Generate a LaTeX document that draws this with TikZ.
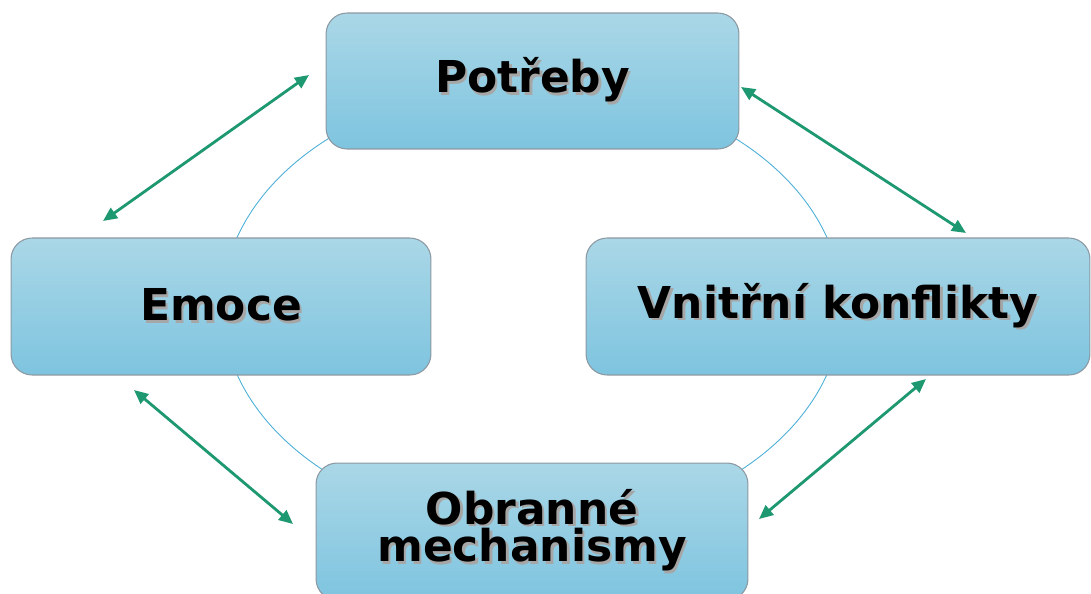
\documentclass[tikz,border=0pt]{standalone}
\usepackage{fontspec}
\setmainfont{DejaVu Sans}
\usetikzlibrary{arrows.meta,positioning}
\definecolor{boxtop}{RGB}{170,215,231}
\definecolor{boxbot}{RGB}{126,196,223}
\definecolor{boxline}{RGB}{140,152,162}
\definecolor{ringblue}{RGB}{75,175,215}
\definecolor{arrgreen}{RGB}{30,152,112}
\newcommand{\shtxt}[1]{\makebox[0pt][l]{\kern1.5pt\raisebox{-1.5pt}{\color{black!35}#1}}#1}
\tikzstyle{stage} = [rectangle, rounded corners=12pt, draw=boxline, line width=0.6pt,
                     top color=boxtop, bottom color=boxbot, inner sep=0pt,
                     font=\fontsize{25}{21.5}\selectfont\bfseries, align=center]
\tikzstyle{arrow} = [line width=1.6pt, draw=arrgreen,
                     {Triangle[length=8pt,width=7pt]}-{Triangle[length=8pt,width=7pt]}]

\begin{document}
\begin{tikzpicture}[x=0.02cm, y=-0.02cm]
	\useasboundingbox (0,0) rectangle (1091,593);
	% ring behind the boxes
	\coordinate (mid) at (532,306);
	\draw[ringblue, line width=0.5pt] (mid) ellipse [x radius=310, y radius=222];
	% the four boxes
	\node[stage, minimum width=8.26cm, minimum height=2.72cm] (needs) at (532.5,81) {\shtxt{Potřeby}};
	\node[stage, minimum width=8.4cm, minimum height=2.74cm] (emo) at (221,306.5) {\shtxt{Emoce}};
	\node[stage, minimum width=10.08cm, minimum height=2.74cm] (conf) at (838,306.5) {\shtxt{Vnitřní konflikty}};
	\node[stage, minimum width=8.64cm, minimum height=2.74cm] (def) at (532,531.5) {\shtxt{Obranné}\\\shtxt{mechanismy}};
	% arrow ends
	\coordinate (a1) at (103,221);
	\coordinate (b1) at (309,75);
	\coordinate (a2) at (741,87);
	\coordinate (b2) at (966,233);
	\coordinate (a3) at (134,390);
	\coordinate (b3) at (293,524);
	\coordinate (a4) at (759,519);
	\coordinate (b4) at (926,379);
	\draw[arrow] (a1) -- (b1);
	\draw[arrow] (a2) -- (b2);
	\draw[arrow] (a3) -- (b3);
	\draw[arrow] (a4) -- (b4);
\end{tikzpicture}
\end{document}
